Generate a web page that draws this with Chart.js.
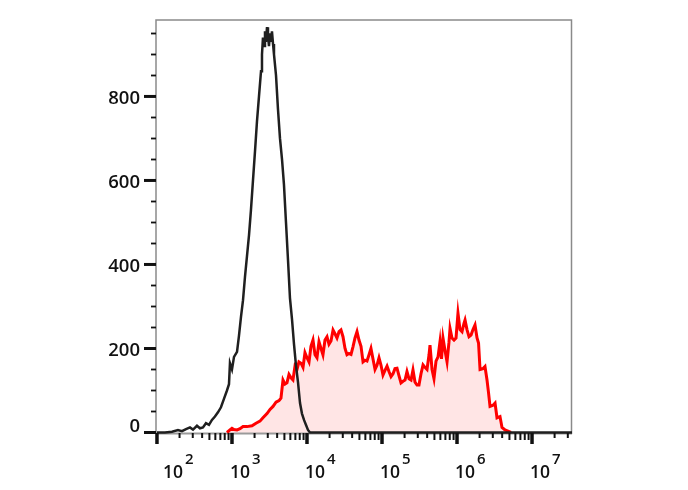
<!DOCTYPE html>
<html>
<head>
<meta charset="utf-8">
<script src="https://cdn.jsdelivr.net/npm/chart.js@4.4.1/dist/chart.umd.min.js"></script>
<style>
  body { margin: 0; background: #fff; }
  #wrap { width: 688px; height: 490px; }
</style>
</head>
<body>
<div id="wrap"><canvas id="Histo" width="688" height="490"></canvas></div>
<script>
// x values are in decades (log10 of intensity), y = counts
const ctrlX = [2.000, 2.107, 2.200, 2.280, 2.333, 2.387, 2.440, 2.480, 2.533, 2.573, 2.613, 2.653, 2.693, 2.733, 2.773, 2.813, 2.853, 2.893, 2.933, 2.960, 2.973, 3.000, 3.027, 3.067, 3.093, 3.120, 3.147, 3.173, 3.200, 3.227, 3.253, 3.280, 3.307, 3.333, 3.360, 3.387, 3.400, 3.413, 3.427, 3.440, 3.453, 3.467, 3.480, 3.493, 3.507, 3.520, 3.533, 3.547, 3.560, 3.587, 3.613, 3.640, 3.667, 3.693, 3.720, 3.747, 3.773, 3.800, 3.827, 3.853, 3.880, 3.907, 3.933, 3.960, 3.987, 4.013, 4.040, 7.533];
const ctrlY = [0, 0, 2, 6, 3, 8, 12, 7, 16, 10, 12, 22, 18, 30, 38, 48, 60, 80, 100, 115, 165, 150, 180, 192, 230, 275, 315, 370, 420, 470, 530, 600, 670, 740, 800, 860, 900, 940, 920, 955, 930, 965, 945, 920, 950, 930, 955, 925, 900, 850, 770, 700, 650, 590, 500, 410, 320, 270, 210, 160, 120, 70, 45, 30, 18, 6, 0, 0];

const stainX = [2.933, 2.973, 3.000, 3.027, 3.067, 3.107, 3.147, 3.200, 3.267, 3.320, 3.373, 3.413, 3.467, 3.507, 3.547, 3.587, 3.627, 3.653, 3.680, 3.707, 3.733, 3.760, 3.787, 3.813, 3.840, 3.867, 3.893, 3.920, 3.947, 3.973, 4.000, 4.027, 4.053, 4.080, 4.107, 4.133, 4.160, 4.187, 4.213, 4.240, 4.267, 4.293, 4.320, 4.347, 4.373, 4.400, 4.427, 4.453, 4.480, 4.507, 4.533, 4.560, 4.587, 4.613, 4.640, 4.667, 4.693, 4.720, 4.747, 4.773, 4.800, 4.827, 4.853, 4.880, 4.907, 4.933, 4.960, 4.987, 5.013, 5.040, 5.067, 5.093, 5.120, 5.147, 5.173, 5.200, 5.227, 5.253, 5.280, 5.307, 5.333, 5.360, 5.387, 5.413, 5.440, 5.467, 5.493, 5.520, 5.547, 5.573, 5.600, 5.627, 5.640, 5.667, 5.693, 5.720, 5.747, 5.773, 5.793, 5.813, 5.840, 5.867, 5.893, 5.907, 5.933, 5.960, 5.987, 6.013, 6.040, 6.067, 6.093, 6.107, 6.133, 6.160, 6.187, 6.213, 6.240, 6.267, 6.287, 6.307, 6.347, 6.373, 6.400, 6.420, 6.440, 6.480, 6.507, 6.533, 6.573, 6.600, 6.640, 6.680, 6.720];
const stainY = [0, 6, 10, 7, 6, 9, 14, 14, 16, 22, 27, 35, 45, 55, 62, 72, 76, 82, 125, 115, 118, 138, 130, 125, 158, 150, 168, 165, 155, 190, 178, 168, 205, 220, 185, 178, 216, 200, 185, 220, 228, 210, 218, 244, 235, 225, 240, 244, 228, 200, 185, 188, 186, 204, 225, 240, 220, 205, 168, 172, 170, 185, 200, 175, 150, 160, 178, 160, 137, 148, 158, 145, 133, 140, 152, 153, 135, 118, 122, 125, 145, 128, 125, 149, 120, 113, 113, 140, 161, 155, 150, 185, 208, 150, 128, 170, 180, 216, 175, 225, 195, 168, 215, 248, 225, 220, 225, 284, 245, 240, 260, 268, 245, 228, 232, 245, 256, 225, 213, 150, 152, 157, 125, 95, 62, 65, 70, 35, 38, 12, 6, 3, 0];

const yLabels = [0, 200, 400, 600, 800];
const yMinor = [50, 100, 150, 250, 300, 350, 450, 500, 550, 650, 700, 750, 850, 900, 950];
const xDecades = [2, 3, 4, 5, 6, 7];
const xMinorMult = [2, 3, 4, 5, 6, 7, 8, 9];

function pts(xs, ys) {
    return xs.map((x, i) => ({ x: x, y: ys[i] }));
}

const ink = '#111';

const axesPlugin = {
    id: 'flowAxes',
    beforeDatasetsDraw(chart) {
        const ctx = chart.ctx;
        const a = chart.chartArea;
        ctx.save();
        // frame
        ctx.strokeStyle = '#8a8a8a';
        ctx.lineWidth = 1.5;
        ctx.beginPath();
        ctx.moveTo(a.left, a.bottom);
        ctx.lineTo(a.left, a.top);
        ctx.lineTo(a.right - 0.5, a.top);
        ctx.lineTo(a.right - 0.5, a.bottom);
        ctx.stroke();
        // x axis line
        ctx.strokeStyle = '#9a9a9a';
        ctx.lineWidth = 2;
        ctx.beginPath();
        ctx.moveTo(a.left, a.bottom - 0.5);
        ctx.lineTo(a.right, a.bottom - 0.5);
        ctx.stroke();
        ctx.restore();
    },
    afterDraw(chart) {
        const ctx = chart.ctx;
        const a = chart.chartArea;
        const xs = chart.scales.x;
        const ys = chart.scales.y;
        ctx.save();
        ctx.strokeStyle = ink;
        ctx.fillStyle = ink;

        // y ticks
        yMinor.forEach(v => {
            const py = Math.round(ys.getPixelForValue(v)) + 0.5;
            ctx.lineWidth = 1.8;
            ctx.beginPath();
            ctx.moveTo(a.left - 5, py);
            ctx.lineTo(a.left, py);
            ctx.stroke();
        });
        ctx.font = '600 18.5px "Open Sans"';
        ctx.textAlign = 'right';
        ctx.textBaseline = 'middle';
        yLabels.forEach(v => {
            const py = ys.getPixelForValue(v);
            ctx.lineWidth = 3;
            ctx.beginPath();
            ctx.moveTo(a.left - 12, py);
            ctx.lineTo(a.left, py);
            ctx.stroke();
            ctx.fillText(String(v), a.left - 16, Math.min(py + 2, 427));
        });

        // x ticks
        const base = a.bottom - 1;
        xDecades.forEach(d => {
            xMinorMult.forEach(m => {
                const v = d + Math.log10(m);
                if (v > xs.max) return;
                const px = xs.getPixelForValue(v);
                ctx.lineWidth = 2;
                ctx.beginPath();
                ctx.moveTo(px, base);
                ctx.lineTo(px, base + (m >= 5 ? 7 : 5));
                ctx.stroke();
            });
        });
        xDecades.forEach(d => {
            const px = xs.getPixelForValue(d);
            ctx.lineWidth = 3.5;
            ctx.beginPath();
            ctx.moveTo(px, base);
            ctx.lineTo(px, base + 11);
            ctx.stroke();

            const lx = Math.max(px - 2, 163);
            ctx.textAlign = 'left';
            ctx.textBaseline = 'alphabetic';
            ctx.font = '600 17.5px "Open Sans"';
            ctx.fillText('10', lx, 478);
            const w = ctx.measureText('10').width;
            ctx.font = '600 15px "Open Sans"';
            ctx.fillText(String(d), lx + w + 2, 464);
        });
        ctx.restore();
    }
};

const data = {
    datasets: [{
        label: 'Control',
        data: pts(ctrlX, ctrlY),
        borderColor: '#1f1f1f',
        borderWidth: 2.5,
        pointRadius: 0,
        fill: false,
        tension: 0
    },
    {
        label: 'Stained',
        data: pts(stainX, stainY),
        borderColor: '#ff0000',
        backgroundColor: 'rgba(255, 0, 0, 0.1)',
        borderWidth: 3,
        pointRadius: 0,
        fill: 'origin',
        tension: 0
    }]
};

const config = {
    type: 'line',
    data: data,
    options: {
        responsive: false,
        animation: false,
        layout: {
            padding: { left: 156, top: 20, right: 116, bottom: 56 }
        },
        plugins: {
            legend: { display: false },
            tooltip: { enabled: false }
        },
        scales: {
            x: { type: 'linear', min: 1.987, max: 7.533, display: false },
            y: { type: 'linear', min: -3.6, max: 982, display: false }
        }
    },
    plugins: [axesPlugin]
};

const myChart = new Chart(document.getElementById('Histo'), config);
</script>
</body>
</html>
